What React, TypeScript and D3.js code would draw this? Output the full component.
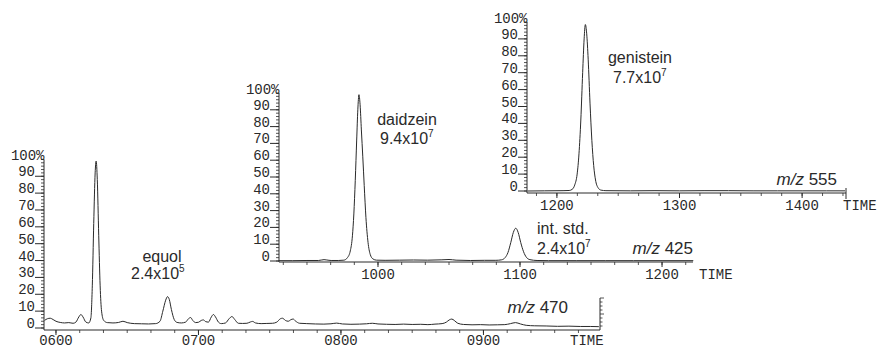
import React from 'react';
import * as d3 from 'd3';

// ---- data ----
// panel 1: m/z 470 (equol)
const equolTime = [592, 594, 596, 598, 600, 603, 606, 609, 612, 614, 616, 617.5, 619, 621, 623, 624.5, 625.5, 626.5, 627.5, 628.2, 629, 630, 631, 632, 633.5, 636, 640, 644, 647, 650, 655, 660, 665, 670, 673, 675, 677, 678.3, 679.5, 681, 683, 685, 688, 691, 693, 694.5, 696, 698, 700, 702, 703.5, 705, 707, 709, 710.5, 712, 714, 716, 719, 721.5, 723.5, 725.5, 728, 731, 734, 736.5, 738, 740, 744, 748, 752, 755, 757.5, 759, 761, 763, 765, 766.5, 768, 771, 776, 782, 788, 793, 797, 801, 807, 813, 818, 822, 826, 832, 838, 844, 850, 856, 861, 866, 871, 874, 876, 877.8, 879.5, 882, 886, 892, 898, 904, 910, 915, 919, 922.5, 926, 930, 936, 944, 952, 960, 968, 975, 981];
const equolIntensity = [4.5, 5.5, 5.8, 5.0, 4.0, 3.3, 3.0, 3.2, 2.8, 3.5, 6.5, 8.0, 6.5, 3.5, 3.0, 6, 25, 62, 92, 99, 88, 55, 25, 10, 4.5, 3.2, 3.0, 3.3, 4.0, 3.2, 2.6, 2.5, 2.4, 2.6, 4, 10, 16.5, 18.6, 17, 11, 5, 3.3, 3.0, 3.5, 5.5, 6.2, 4.5, 3.2, 3.4, 4.5, 4.8, 3.8, 3.5, 6.5, 8.0, 6.5, 3.5, 2.6, 3.0, 5.5, 6.8, 5.0, 2.8, 2.7, 2.8, 3.6, 3.9, 3.0, 2.6, 2.7, 2.8, 3.5, 5.5, 5.8, 4.5, 4.0, 5.0, 5.3, 4.2, 2.8, 2.6, 2.4, 2.3, 2.5, 2.9, 2.4, 2.2, 2.3, 2.5, 2.8, 2.4, 2.2, 2.1, 2.3, 2.1, 2.2, 2.0, 2.3, 2.6, 3.5, 4.8, 5.3, 4.5, 2.8, 2.1, 1.9, 2.0, 1.8, 1.9, 2.0, 2.6, 3.2, 2.4, 1.6, 1.3, 1.2, 1.0, 1.1, 0.9, 0.9, 0.8];

// panel 2: m/z 425 (daidzein + internal standard)
const daidzeinTime = [930, 940, 950, 958, 962, 964, 967, 972, 976, 978.5, 980.5, 982, 983, 984, 985, 985.8, 986.6, 987.4, 988.3, 989.3, 990.3, 991.5, 993, 994.5, 996.5, 999, 1005, 1015, 1025, 1035, 1045, 1050, 1055, 1065, 1075, 1083, 1087, 1089.5, 1091.5, 1093.5, 1095.3, 1097, 1098.7, 1100.5, 1102.5, 1104.5, 1107, 1112, 1120, 1140, 1160, 1180, 1200, 1222];
const daidzeinIntensity = [0.2, 0.2, 0.3, 0.3, 0.8, 0.6, 0.3, 0.3, 0.5, 2, 6, 15, 28, 48, 72, 90, 99, 93, 78, 62, 45, 26, 11, 4, 1.2, 0.5, 0.4, 0.5, 0.6, 0.5, 0.7, 0.9, 0.5, 0.3, 0.4, 0.4, 0.7, 2, 5, 11, 17, 19.5, 17, 11, 5.5, 2.2, 0.8, 0.3, 0.2, 0.2, 0.2, 0.2, 0.2, 0.2];

// panel 3: m/z 555 (genistein)
const genisteinTime = [1176, 1190, 1205, 1210, 1212.5, 1214.5, 1216.5, 1218, 1219.5, 1221, 1222.2, 1223.2, 1224.3, 1225.5, 1227, 1228.5, 1230, 1231.5, 1233.5, 1236, 1240, 1260, 1280, 1300, 1320, 1340, 1360, 1380, 1400, 1420, 1435];
const genisteinIntensity = [0, 0.1, 0.2, 0.3, 1, 3.5, 10, 22, 42, 70, 90, 98.5, 93, 78, 52, 30, 15, 6.5, 2, 0.5, 0.2, 0.1, 0.2, 0.1, 0.2, 0.2, 0.1, 0.1, 0.1, 0.1, 0.1];

const yTickValues = [0, 10, 20, 30, 40, 50, 60, 70, 80, 90];
const p1TickValues = [600, 700, 800, 900];
const p1TickLabels = ['0600', '0700', '0800', '0900'];
const p2TickValues = [1000, 1100, 1200];
const p2TickLabels = ['1000', '1100', '1200'];
const p3TickValues = [1200, 1300, 1400];
const p3TickLabels = ['1200', '1300', '1400'];

const INK = '#2a2a2a';
const MONO = '"Liberation Mono", "Courier New", monospace';
const SANS = '"Liberation Sans", Arial, Helvetica, sans-serif';

type PanelProps = {
  times: number[];
  values: number[];
  xDomain: [number, number];
  xRange: [number, number];
  yZero: number;
  yTop: number;
  axisY: number;
  tickValues: number[];
  tickLabels: string[];
  timeX: number;
  labelOffset?: number;
  endTick?: boolean;
};

function Panel(p: PanelProps) {
  const x = d3.scaleLinear().domain(p.xDomain).range(p.xRange);
  const y = d3.scaleLinear().domain([0, 100]).range([p.yZero, p.yTop]);
  const line = d3
    .line<number>()
    .x((_, i) => x(p.times[i]))
    .y((d) => y(d))
    .curve(d3.curveMonotoneX);
  const ax = p.xRange[0];
  const step = 100 / 6;
  const minor: number[] = [];
  let t0 = p.tickValues[0];
  while (t0 - step >= p.xDomain[0]) t0 -= step;
  for (let t = t0; t <= p.xDomain[1] + 0.01; t += step) minor.push(t);
  const yMinor = d3.range(0, 101, 2);
  const labelBase = p.axisY + (p.labelOffset ?? 17);
  return (
    <g>
      <path d={line(p.values) || ''} fill="none" stroke={INK} strokeWidth={1} />
      {/* y axis */}
      <line x1={ax} x2={ax} y1={p.axisY} y2={y(100)} stroke={INK} strokeWidth={1} />
      {yMinor.map((v) => (
        <line key={'ym' + v} x1={ax - 3} x2={ax} y1={y(v)} y2={y(v)} stroke={INK} strokeWidth={0.8} />
      ))}
      {yTickValues.map((v) => (
        <g key={'yt' + v}>
          <line x1={ax - 9} x2={ax} y1={y(v)} y2={y(v)} stroke={INK} strokeWidth={1} />
          <text x={ax - 9} y={y(v)} textAnchor="end" fontFamily={MONO} fontSize={14} fill={INK}>
            {v}
          </text>
        </g>
      ))}
      <text x={ax + 0.5} y={y(100) + 0.5} textAnchor="end" fontFamily={MONO} fontSize={14} fill={INK}>
        100%
      </text>
      {/* x axis */}
      <line x1={p.xRange[0]} x2={p.xRange[1]} y1={p.axisY} y2={p.axisY} stroke={INK} strokeWidth={1} />
      {minor.map((t, i) => (
        <line key={'xm' + i} x1={x(t)} x2={x(t)} y1={p.axisY} y2={p.axisY + 3} stroke={INK} strokeWidth={0.8} />
      ))}
      {p.tickValues.map((t, i) => (
        <g key={'xt' + t}>
          <line x1={x(t)} x2={x(t)} y1={p.axisY} y2={p.axisY + 5} stroke={INK} strokeWidth={1} />
          <text x={x(t)} y={labelBase} textAnchor="middle" fontFamily={MONO} fontSize={14} fill={INK}>
            {p.tickLabels[i]}
          </text>
        </g>
      ))}
      <text x={p.timeX} y={labelBase} fontFamily={MONO} fontSize={14} fill={INK}>
        TIME
      </text>
      {p.endTick && (
        <line x1={p.xRange[1]} x2={p.xRange[1]} y1={p.axisY - 5} y2={p.axisY + 6} stroke={INK} strokeWidth={1} />
      )}
    </g>
  );
}

function Sci({ x, y, mant, exp, anchor }: { x: number; y: number; mant: string; exp: string; anchor?: string }) {
  return (
    <text x={x} y={y} fontFamily={SANS} fontSize={16} fill={INK} textAnchor={anchor || 'start'}>
      {mant}
      <tspan fontSize={10} dy={-7}>
        {exp}
      </tspan>
    </text>
  );
}

function MZ({ x, y, v }: { x: number; y: number; v: string }) {
  return (
    <text x={x} y={y} fontFamily={SANS} fontSize={17} fill={INK} textAnchor="end">
      <tspan fontStyle="italic">m/z</tspan> {v}
    </text>
  );
}

export default function App() {
  const miniTicks = d3.range(0, 8);
  return (
    <svg
      width={878}
      height={348}
      viewBox="0 0 878 348"
      style={{ position: 'absolute', left: 0, top: 0, background: '#fff' }}
    >
      <rect width={878} height={348} fill="#fff" />
      {/* panel 1: equol */}
      <Panel
        times={equolTime}
        values={equolIntensity}
        xDomain={[591.6, 981.8]}
        xRange={[44, 600]}
        yZero={328}
        yTop={159.4}
        axisY={330}
        tickValues={p1TickValues}
        tickLabels={p1TickLabels}
        timeX={570}
        labelOffset={15}
      />
      <line x1={600} x2={600} y1={298} y2={330} stroke={INK} strokeWidth={1} />
      {miniTicks.map((i) => (
        <line key={'mt' + i} x1={600} x2={i % 4 === 0 ? 604 : 602.5} y1={298 + i * 4} y2={298 + i * 4} stroke={INK} strokeWidth={0.8} />
      ))}
      <text x={162} y={262} textAnchor="middle" fontFamily={SANS} fontSize={16} fill={INK}>
        equol
      </text>
      <Sci x={131} y={279} mant="2.4x10" exp="5" />
      <MZ x={568} y={313} v="470" />

      {/* panel 2: daidzein */}
      <Panel
        times={daidzeinTime}
        values={daidzeinIntensity}
        xDomain={[930.3, 1221.8]}
        xRange={[279, 693]}
        yZero={261}
        yTop={93}
        axisY={262}
        tickValues={p2TickValues}
        tickLabels={p2TickLabels}
        timeX={699}
      />
      <text x={407} y={125} textAnchor="middle" fontFamily={SANS} fontSize={16} fill={INK}>
        daidzein
      </text>
      <Sci x={380} y={144} mant="9.4x10" exp="7" />
      <text x={537} y={234} fontFamily={SANS} fontSize={16} fill={INK}>
        int. std.
      </text>
      <Sci x={537} y={254} mant="2.4x10" exp="7" />
      <MZ x={693} y={254} v="425" />

      {/* panel 3: genistein */}
      <Panel
        times={genisteinTime}
        values={genisteinIntensity}
        xDomain={[1175.6, 1435.8]}
        xRange={[527, 846]}
        yZero={191}
        yTop={22}
        axisY={193}
        tickValues={p3TickValues}
        tickLabels={p3TickLabels}
        timeX={843}
        endTick
      />
      <text x={640} y={63} textAnchor="middle" fontFamily={SANS} fontSize={16} fill={INK}>
        genistein
      </text>
      <Sci x={613} y={83} mant="7.7x10" exp="7" />
      <MZ x={837} y={185} v="555" />
    </svg>
  );
}
